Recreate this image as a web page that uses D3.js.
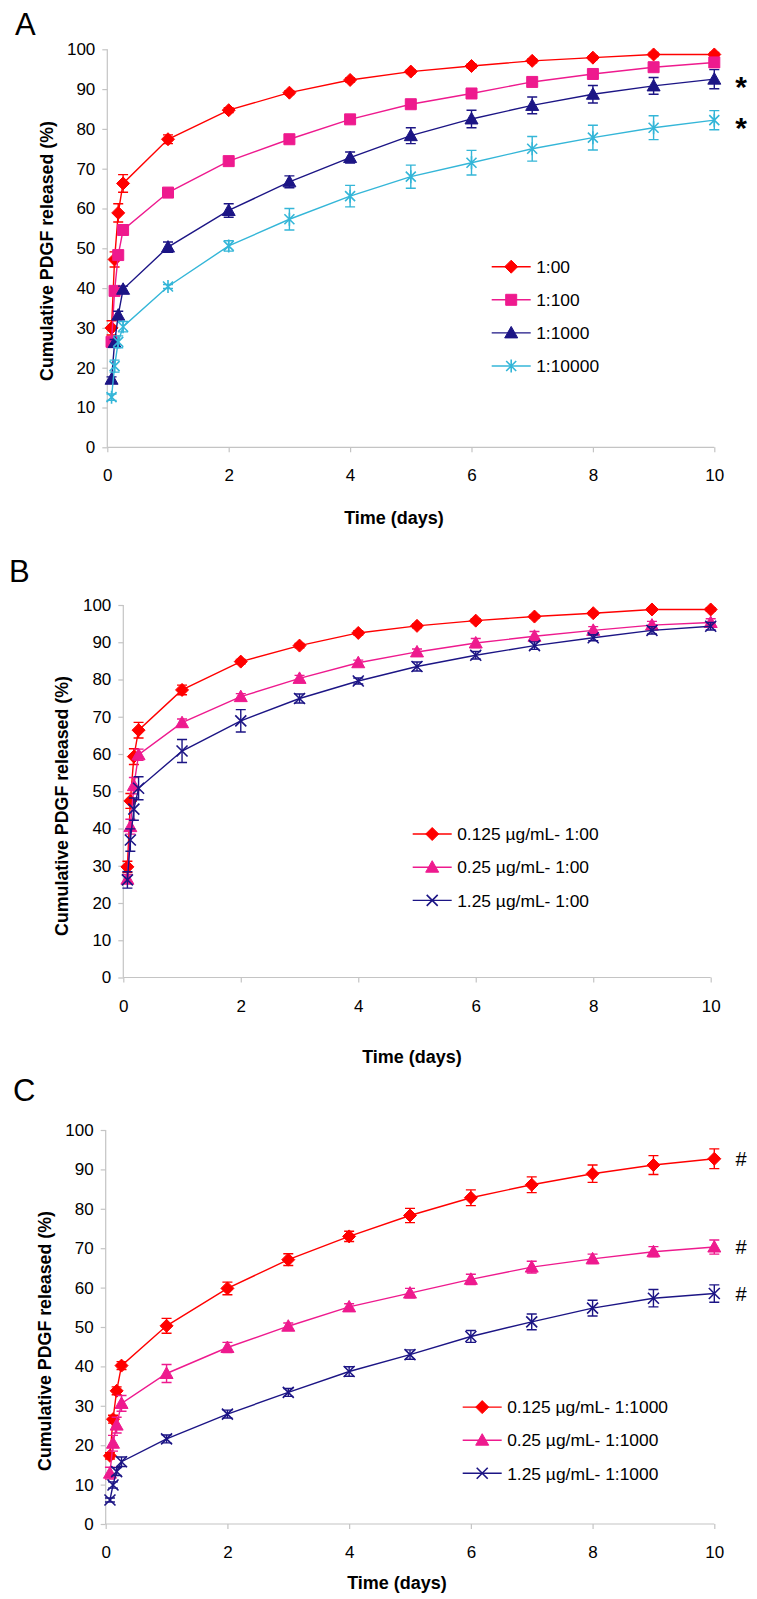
<!DOCTYPE html>
<html>
<head>
<meta charset="utf-8">
<script src="https://cdn.jsdelivr.net/npm/d3@7"></script>
<style>
  html, body { margin: 0; padding: 0; background: #fff; }
  svg { display: block; font-family: "Liberation Sans", Arial, sans-serif; }
</style>
</head>
<body>
<svg id="chart" width="757" height="1599"></svg>
<script>
// ---------------- DATA ----------------
const days = [0.07, 0.12, 0.18, 0.26, 1, 2, 3, 4, 5, 6, 7, 8, 9, 10];
const xTickValues = [0, 2, 4, 6, 8, 10];
const yTickValues = [0, 10, 20, 30, 40, 50, 60, 70, 80, 90, 100];

// Panel A
const aNames = ["1:00", "1:100", "1:1000", "1:10000"];
const a1 = [30.0, 47.2, 58.9, 66.3, 77.4, 84.7, 89.1, 92.3, 94.4, 95.8, 97.1, 97.9, 98.7, 98.7];
const a1Err = [1.8, 1.9, 2.3, 2.2, 1.1, 0.6, 0.5, 0.5, 0.5, 0.5, 0.5, 0.5, 0.5, 0.5];
const a2 = [26.5, 39.3, 48.3, 54.6, 64.0, 71.9, 77.4, 82.4, 86.2, 88.9, 91.8, 93.8, 95.5, 96.7];
const a2Err = [0.8, 1.0, 1.0, 1.0, 0.8, 0.7, 0.7, 0.6, 0.6, 0.6, 0.6, 0.6, 0.6, 1.2];
const a3 = [17.1, 26.3, 33.2, 39.7, 50.3, 59.5, 66.7, 72.8, 78.3, 82.5, 85.9, 88.7, 90.8, 92.5];
const a3Err = [0.6, 0.8, 1.0, 0.8, 1.3, 1.7, 1.5, 1.4, 2.0, 2.2, 2.1, 2.2, 2.1, 2.4];
const a4 = [12.6, 20.4, 26.5, 30.3, 40.4, 50.6, 57.3, 63.1, 68.0, 71.5, 75.0, 77.8, 80.3, 82.2];
const a4Err = [0.8, 1.5, 1.5, 1.3, 0.5, 1.3, 2.7, 2.7, 2.9, 3.1, 3.1, 3.1, 3.0, 2.4];

// Panel B
const bNames = ["0.125 µg/mL- 1:00", "0.25 µg/mL- 1:00", "1.25 µg/mL- 1:00"];
const b1 = [29.7, 47.4, 59.3, 66.4, 77.2, 84.8, 89.1, 92.5, 94.4, 95.8, 96.9, 97.8, 98.8, 98.8];
const b1Err = [1.5, 2.0, 2.1, 2.1, 1.3, 0.6, 0.6, 0.6, 0.5, 0.5, 0.5, 0.5, 0.5, 0.5];
const b2 = [26.4, 40.5, 51.5, 59.8, 68.4, 75.4, 80.3, 84.5, 87.4, 89.8, 91.6, 93.2, 94.6, 95.3];
const b2Err = [1.2, 2.0, 2.2, 1.5, 1.0, 0.8, 0.8, 0.7, 0.8, 1.2, 1.3, 1.0, 1.0, 1.0];
const b3 = [26.2, 36.9, 45.2, 50.8, 60.8, 68.9, 74.9, 79.6, 83.5, 86.5, 89.1, 91.2, 93.2, 94.3];
const b3Err = [2.2, 3.0, 3.0, 3.1, 3.1, 3.0, 1.2, 0.8, 1.2, 1.0, 1.0, 0.8, 1.0, 1.0];

// Panel C
const cNames = ["0.125 µg/mL- 1:1000", "0.25 µg/mL- 1:1000", "1.25 µg/mL- 1:1000"];
const c1 = [17.3, 26.6, 33.8, 40.2, 50.3, 59.8, 67.1, 73.0, 78.3, 82.8, 86.1, 88.9, 91.1, 92.7];
const c1Err = [0.8, 1.0, 1.0, 1.0, 1.9, 1.6, 1.5, 1.3, 1.8, 2.0, 2.0, 2.2, 2.4, 2.5];
const c2 = [12.9, 20.5, 25.1, 30.6, 38.2, 44.8, 50.2, 55.1, 58.6, 62.1, 65.2, 67.3, 69.1, 70.3];
const c2Err = [1.5, 2.0, 2.0, 2.0, 2.3, 1.3, 0.8, 0.8, 1.2, 1.3, 1.5, 1.2, 1.3, 1.8];
const c3 = [6.1, 9.9, 13.3, 15.8, 21.6, 27.9, 33.4, 38.7, 43.0, 47.6, 51.3, 54.8, 57.3, 58.5];
const c3Err = [0.5, 0.8, 1.0, 1.2, 1.0, 1.0, 1.0, 1.2, 1.2, 1.5, 2.0, 2.0, 2.2, 2.2];

// Significance marks
const aMarks = ["*", "*"];   // on 1:1000 and 1:10000
const cMarks = ["#", "#", "#"];

// ---------------- STYLE ----------------
const RED = "#ff0000", MAG = "#ee1a8e", NAVY = "#1c1585", CYAN = "#34b6d8";
const AXIS = "#c4c4c4";

const markerPath = {
  diamond: "M0,-6.5L6.5,0L0,6.5L-6.5,0Z",
  square: "M-5.5,-5.5H5.5V5.5H-5.5Z",
  triangle: "M0,-6.5L6.5,5L-6.5,5Z",
  x: "M-5.5,-5.5L5.5,5.5M-5.5,5.5L5.5,-5.5",
  asterisk: "M-5,-5L5,5M-5,5L5,-5M0,-6.5V6.5"
};
const filled = { diamond: true, square: true, triangle: true, x: false, asterisk: false };

const svg = d3.select("#chart");

function drawPanel(p) {
  const x = d3.scaleLinear().domain([0, 10]).range([p.left, p.right]);
  const y = d3.scaleLinear().domain([0, 100]).range([p.bottom, p.top]);
  const g = svg.append("g");

  // panel letter
  g.append("text").attr("x", p.letterX).attr("y", p.letterY)
    .attr("font-size", 31).attr("fill", "#000").text(p.letter);

  // axes
  const xAxis = d3.axisBottom(x).tickValues(xTickValues).tickSize(5).tickPadding(17).tickFormat(d3.format("d"));
  const yAxis = d3.axisLeft(y).tickValues(yTickValues).tickSize(5).tickPadding(7).tickFormat(d3.format("d"));
  const gx = g.append("g").attr("transform", `translate(0,${p.bottom})`).call(xAxis);
  const gy = g.append("g").attr("transform", `translate(${p.left},0)`).call(yAxis);
  [gx, gy].forEach(a => {
    a.selectAll("path.domain").attr("stroke", AXIS).attr("stroke-width", 1.2);
    a.selectAll(".tick line").attr("stroke", AXIS).attr("stroke-width", 1.2);
    a.selectAll(".tick text").attr("font-size", 17).attr("fill", "#000")
      .attr("font-family", "'Liberation Sans', Arial, sans-serif");
  });
  gx.select("path.domain").attr("d", `M${p.left},0H${p.right}`);
  gy.select("path.domain").attr("d", `M0,${p.bottom}V${p.top}`);

  // axis titles
  g.append("text").attr("x", p.xTitleX).attr("y", p.xTitleY)
    .attr("text-anchor", "middle").attr("font-weight", "bold").attr("font-size", 18)
    .text("Time (days)");
  g.append("text")
    .attr("transform", `translate(${p.yTitleX},${p.yTitleY}) rotate(-90)`)
    .attr("text-anchor", "middle").attr("font-weight", "bold").attr("font-size", 17.8)
    .text("Cumulative PDGF released (%)");

  const line = d3.line().x(d => x(d.t)).y(d => y(d.v));

  p.series.forEach(s => {
    const pts = days.map((t, i) => ({ t, v: s.values[i], e: s.err[i] }));
    const sg = g.append("g");
    sg.append("path").attr("d", line(pts)).attr("fill", "none")
      .attr("stroke", s.color).attr("stroke-width", 1.4);
    // error bars
    const eb = sg.selectAll("g.eb").data(pts).join("g");
    eb.append("path")
      .attr("d", d => {
        const cx = x(d.t), y1 = y(d.v - d.e), y2 = y(d.v + d.e);
        return `M${cx},${y1}V${y2}M${cx - 5},${y1}H${cx + 5}M${cx - 5},${y2}H${cx + 5}`;
      })
      .attr("fill", "none").attr("stroke", s.color).attr("stroke-width", 1.4);
    // markers
    sg.selectAll("path.mk").data(pts).join("path")
      .attr("class", "mk")
      .attr("transform", d => `translate(${x(d.t)},${y(d.v)})`)
      .attr("d", markerPath[s.marker])
      .attr("fill", filled[s.marker] ? s.color : "none")
      .attr("stroke", s.color).attr("stroke-width", filled[s.marker] ? 1 : 1.6);
  });

  // legend
  p.series.forEach((s, i) => {
    const ly = p.legY + i * p.legStep;
    const lg = g.append("g");
    lg.append("line").attr("x1", p.legX).attr("x2", p.legX + 39)
      .attr("y1", ly).attr("y2", ly).attr("stroke", s.color).attr("stroke-width", 1.4);
    lg.append("path").attr("transform", `translate(${p.legX + 19.5},${ly})`)
      .attr("d", markerPath[s.marker])
      .attr("fill", filled[s.marker] ? s.color : "none")
      .attr("stroke", s.color).attr("stroke-width", filled[s.marker] ? 1 : 1.6);
    lg.append("text").attr("x", p.legX + 44.5).attr("y", ly + 6.2)
      .attr("font-size", 17.4).attr("fill", "#000").text(s.name);
  });

  // significance marks
  (p.marks || []).forEach(m => {
    const s = p.series[m.series];
    const yv = y(s.values[s.values.length - 1]);
    g.append("text").attr("x", p.markX).attr("y", yv + m.dy)
      .attr("font-size", m.size).attr("font-weight", m.weight).attr("text-anchor", "middle")
      .attr("fill", "#000").text(m.text);
  });
}

const panels = [
  {
    letter: "A", letterX: 15, letterY: 35,
    left: 107.3, right: 714.3, top: 49.3, bottom: 447.3,
    xTitleX: 394, xTitleY: 524, yTitleX: 53, yTitleY: 251,
    legX: 491.7, legY: 266.7, legStep: 33.1,
    series: [
      { name: aNames[0], values: a1, err: a1Err, color: RED, marker: "diamond" },
      { name: aNames[1], values: a2, err: a2Err, color: MAG, marker: "square" },
      { name: aNames[2], values: a3, err: a3Err, color: NAVY, marker: "triangle" },
      { name: aNames[3], values: a4, err: a4Err, color: CYAN, marker: "asterisk" }
    ],
    markX: 741,
    marks: [
      { series: 2, text: aMarks[0], size: 30, weight: "bold", dy: 18 },
      { series: 3, text: aMarks[1], size: 30, weight: "bold", dy: 18 }
    ]
  },
  {
    letter: "B", letterX: 9, letterY: 582,
    left: 123.3, right: 710.7, top: 605, bottom: 977.5,
    xTitleX: 412, xTitleY: 1063, yTitleX: 68, yTitleY: 806,
    legX: 412.7, legY: 834, legStep: 33.2,
    series: [
      { name: bNames[0], values: b1, err: b1Err, color: RED, marker: "diamond" },
      { name: bNames[1], values: b2, err: b2Err, color: MAG, marker: "triangle" },
      { name: bNames[2], values: b3, err: b3Err, color: NAVY, marker: "x" }
    ]
  },
  {
    letter: "C", letterX: 13, letterY: 1101,
    left: 105.7, right: 714.3, top: 1130, bottom: 1524,
    xTitleX: 397, xTitleY: 1589, yTitleX: 51, yTitleY: 1341,
    legX: 462.7, legY: 1407.1, legStep: 33.1,
    series: [
      { name: cNames[0], values: c1, err: c1Err, color: RED, marker: "diamond" },
      { name: cNames[1], values: c2, err: c2Err, color: MAG, marker: "triangle" },
      { name: cNames[2], values: c3, err: c3Err, color: NAVY, marker: "x" }
    ],
    markX: 741,
    marks: [
      { series: 0, text: cMarks[0], size: 20, weight: "normal", dy: 7 },
      { series: 1, text: cMarks[1], size: 20, weight: "normal", dy: 7 },
      { series: 2, text: cMarks[2], size: 20, weight: "normal", dy: 7 }
    ]
  }
];

panels.forEach(drawPanel);
</script>
</body>
</html>
